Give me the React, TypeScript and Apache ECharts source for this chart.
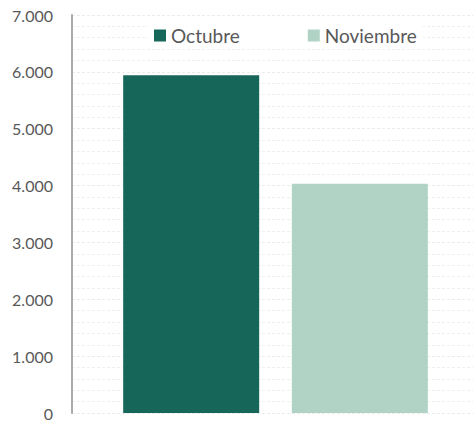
import React, { useEffect, useRef } from "react";
import * as echarts from "echarts";

const categories = [""];
const seriesNames = ["Octubre", "Noviembre"];
const octubre = [5940];
const noviembre = [4030];
const colors = ["#17665A", "#B0D3C5"];
const yMax = 7000;
const yInterval = 1000;

export default function App() {
  const ref = useRef<HTMLDivElement>(null);
  useEffect(() => {
    const chart = echarts.init(ref.current!, null, { renderer: "svg" });
    chart.setOption({
      animation: false,
      color: colors,
      legend: {
        top: 24,
        left: 148,
        itemGap: 68,
        itemWidth: 12,
        itemHeight: 12,
        icon: "rect",
        backgroundColor: "#ffffff",
        padding: [2, 6],
        textStyle: { color: "#595959", fontSize: 19, fontFamily: "Lato" },
        data: seriesNames,
      },
      grid: [
        { left: 72, right: 0, top: 15, bottom: 8, containLabel: false },
        { left: 78, right: 0, top: 15, bottom: 8, containLabel: false },
      ],
      xAxis: [
        {
          type: "category",
          gridIndex: 0,
          data: categories,
          axisLine: { show: false },
          axisTick: { show: false },
          axisLabel: { show: false },
        },
        {
          type: "category",
          gridIndex: 1,
          data: categories,
          axisLine: { show: false },
          axisTick: { show: false },
          axisLabel: { show: false },
        },
      ],
      yAxis: [
        {
          type: "value",
          gridIndex: 0,
          min: 0,
          max: yMax,
          interval: yInterval,
          axisLine: { show: true, lineStyle: { color: "#ABABAB", width: 2 } },
          axisTick: { show: false },
          axisLabel: {
            color: "#595959",
            fontSize: 16,
            fontFamily: "Lato",
            margin: 19,
            formatter: (v: number) => v.toLocaleString("de-DE"),
          },
          splitLine: { show: true, lineStyle: { color: "#EBEBEB", type: [3, 2] } },
          minorTick: { show: false, splitNumber: 5 },
          minorSplitLine: { show: true, lineStyle: { color: "#EFEFEF", type: [3, 2] } },
        },
        {
          type: "value",
          gridIndex: 1,
          min: 0,
          max: yMax,
          interval: yInterval,
          show: false,
          splitLine: { show: false },
        },
      ],
      series: [
        { name: seriesNames[0], type: "bar", xAxisIndex: 1, yAxisIndex: 1, data: octubre, barWidth: 136, barGap: "24%" },
        { name: seriesNames[1], type: "bar", xAxisIndex: 1, yAxisIndex: 1, data: noviembre, barWidth: 136, barGap: "24%" },
      ],
    });
    return () => chart.dispose();
  }, []);
  return <div ref={ref} style={{ width: 473, height: 421, position: "absolute", left: 0, top: 0 }} />;
}
